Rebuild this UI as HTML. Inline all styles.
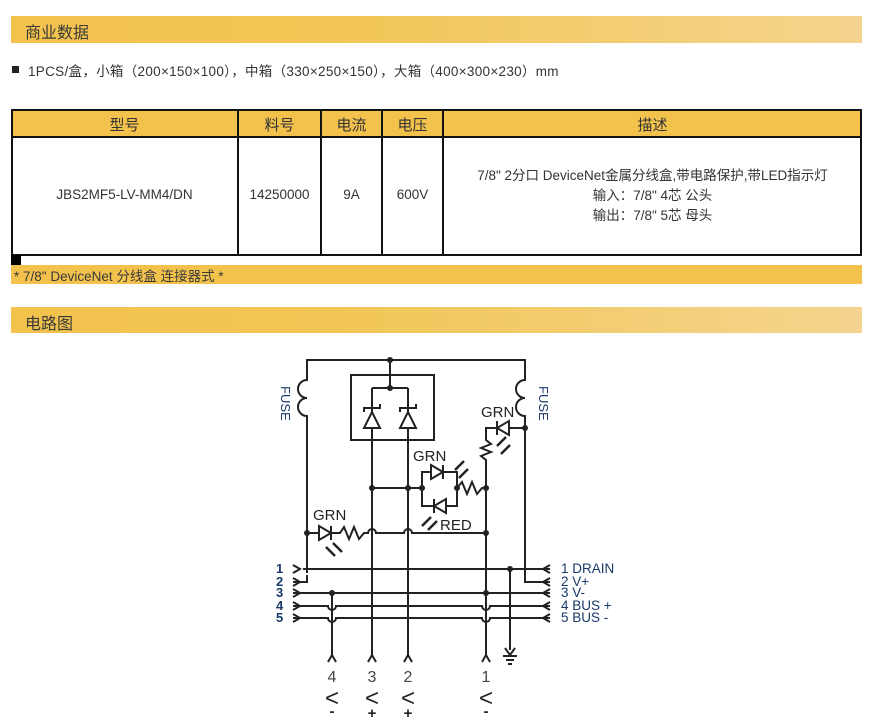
<!DOCTYPE html>
<html><head><meta charset="utf-8"><style>
body{margin:0;width:872px;height:726px;background:#fff;position:relative;overflow:hidden;font-family:"Liberation Sans","Noto Sans CJK SC",sans-serif;color:#333}
.bar{position:absolute;left:11px;width:851px;background:linear-gradient(90deg,#f2c24c 0%,#f2c657 40%,#f4d48e 100%)}
.bar span{position:absolute;left:14px;font-size:16px;color:#3a3a3a}
.t{position:absolute;font-size:13.5px;color:#333;white-space:nowrap}
.c{position:absolute;text-align:center;font-size:13.5px;color:#333;box-sizing:border-box}
</style></head><body>
<div class="bar" style="top:16px;height:27px"><span style="top:3px">商业数据</span></div>
<div style="position:absolute;left:12px;top:66px;width:7px;height:7px;background:#222"></div>
<div class="t" style="left:28px;top:60px;letter-spacing:0.3px">1PCS/盒，小箱（200×150×100），中箱（330×250×150），大箱（400×300×230）mm</div>

<div style="position:absolute;left:11px;top:110px;width:851px;height:27px;background:#f2c24c"></div>
<svg style="position:absolute;left:0;top:0" width="872" height="300">
<g stroke="#111" stroke-width="2" fill="none">
<rect x="12" y="110" width="849" height="145"/>
<line x1="11" y1="137" x2="862" y2="137"/>
<line x1="238" y1="110" x2="238" y2="255"/>
<line x1="321" y1="110" x2="321" y2="255"/>
<line x1="382" y1="110" x2="382" y2="255"/>
<line x1="443" y1="110" x2="443" y2="255"/>
</g>
<rect x="11" y="255" width="10" height="10" fill="#000"/>
</svg>
<div class="c" style="left:11px;top:114px;width:227px;font-size:15px">型号</div>
<div class="c" style="left:238px;top:114px;width:83px;font-size:15px">料号</div>
<div class="c" style="left:321px;top:114px;width:61px;font-size:15px">电流</div>
<div class="c" style="left:382px;top:114px;width:61px;font-size:15px">电压</div>
<div class="c" style="left:443px;top:114px;width:419px;font-size:15px">描述</div>
<div class="c" style="left:11px;top:187px;width:227px">JBS2MF5-LV-MM4/DN</div>
<div class="c" style="left:238px;top:187px;width:83px">14250000</div>
<div class="c" style="left:321px;top:187px;width:61px">9A</div>
<div class="c" style="left:382px;top:187px;width:61px">600V</div>
<div class="c" style="left:443px;top:166px;width:419px;line-height:20px">7/8" 2分口 DeviceNet金属分线盒,带电路保护,带LED指示灯<br>输入：7/8" 4芯 公头<br>输出：7/8" 5芯 母头</div>

<div class="bar" style="top:265px;height:19px;background:#f2c24c"><span style="left:3px;top:0px;font-size:13.5px">* 7/8" DeviceNet 分线盒 连接器式 *</span></div>
<div class="bar" style="top:307px;height:26px"><span style="top:3px">电路图</span></div>

<svg style="position:absolute;left:0;top:0" width="872" height="726">
<g stroke="#222" stroke-width="2" fill="none">
<path d="M307 573 V416 A9 9 0 0 1 307 398 V398 A9 9 0 0 1 307 380 V360 H525 V380 A9 9 0 0 0 525 398 A9 9 0 0 0 525 416 V568"/>
<rect x="351" y="375" width="83" height="65"/>
<path d="M390 360 V388 M372 388 H408 M372 388 V620 M408 388 V620"/>
<path d="M364 428 H380 L372 412 Z M400 428 H416 L408 412 Z" fill="#fff"/>
<path d="M364 412 V408 H380 V404 M400 412 V408 H416 V404"/>
<path d="M372 488 H422 M422 472 H457 V506 H422 Z M457 488 L462 482 L467 494 L472 482 L477 494 L482 488 H486"/>
<path d="M431 465 V479 L443 472 Z M443 465 V479" fill="#fff"/>
<path d="M446 499 V513 L434 506 Z M434 499 V513" fill="#fff"/>
<path d="M486 573 V460 L481 456 L491 452 L481 448 L491 444 L486 440 V428 H525"/>
<path d="M509 421 V435 L497 428 Z M497 421 V435" fill="#fff"/>
<path d="M307 533 H340 L344 527 L349 539 L354 527 L359 539 L364 533 H368 A4 4 0 0 1 376 533 H404 A4 4 0 0 1 412 533 H486"/>
<path d="M319 526 V540 L331 533 Z M331 526 V540" fill="#fff"/>
<path d="M303 569 H550"/>
<path d="M293 582 H307 V575"/>
<path d="M525 568 V582 H550"/>
<path d="M293 593 H550"/>
<path d="M293 606 H328 A4 4 0 0 0 336 606 H482 A4 4 0 0 0 490 606 H550"/>
<path d="M293 618 H328 A4 4 0 0 0 336 618 H482 A4 4 0 0 0 490 618 H550"/>
<path d="M293 565 L300 569 L293 573 M293 578 L300 582 L293 586 M293 589 L300 593 L293 597 M293 602 L300 606 L293 610 M293 614 L300 618 L293 622"/>
<path d="M550 565 L543 569 L550 573 M550 578 L543 582 L550 586 M550 589 L543 593 L550 597 M550 602 L543 606 L550 610 M550 614 L543 618 L550 622"/>
<path d="M332 593 V657 M486 573 V657 M372 620 V657 M408 620 V657"/>
<path d="M510 569 V650"/>
<path d="M328 662 L332 655 L336 662 M368 662 L372 655 L376 662 M404 662 L408 655 L412 662 M482 662 L486 655 L490 662"/>
<path d="M505 648 L510 655 L515 648 M503 656 H517 M506 660 H514 M508 664 H512"/>
</g>
<g fill="#222"><circle cx="390" cy="360" r="3"/><circle cx="390" cy="388" r="3"/><circle cx="372" cy="488" r="3"/><circle cx="408" cy="488" r="3"/><circle cx="422" cy="488" r="3"/><circle cx="457" cy="488" r="3"/><circle cx="486" cy="488" r="3"/><circle cx="525" cy="428" r="3"/><circle cx="307" cy="533" r="3"/><circle cx="486" cy="533" r="3"/><circle cx="510" cy="569" r="3"/><circle cx="332" cy="593" r="3"/><circle cx="486" cy="593" r="3"/></g>
<g fill="#222" font-family="Liberation Sans,sans-serif">
<text x="481" y="417" font-size="15">GRN</text>
<text x="413" y="461" font-size="15">GRN</text>
<text x="440" y="530" font-size="15">RED</text>
<text x="313" y="520" font-size="15">GRN</text>
<text font-size="13" fill="#1a3a6a" transform="translate(281,386) rotate(90)">FUSE</text>
<text font-size="13" fill="#1a3a6a" transform="translate(539,386) rotate(90)">FUSE</text>
<g font-size="13" font-weight="bold" fill="#1a3a6a"><text x="276" y="573">1</text><text x="276" y="586">2</text><text x="276" y="597">3</text><text x="276" y="610">4</text><text x="276" y="622">5</text></g>
<g font-size="13.5" fill="#1a3a6a"><text x="561" y="573">1  DRAIN</text><text x="561" y="586">2  V+</text><text x="561" y="597">3  V-</text><text x="561" y="610">4  BUS +</text><text x="561" y="622">5  BUS -</text></g>
<g font-size="16" fill="#444"><text x="332" y="682" text-anchor="middle">4</text><text x="372" y="682" text-anchor="middle">3</text><text x="408" y="682" text-anchor="middle">2</text><text x="486" y="682" text-anchor="middle">1</text></g>
<g font-size="24" text-anchor="middle"><text x="332" y="706">&lt;</text><text x="372" y="706">&lt;</text><text x="408" y="706">&lt;</text><text x="486" y="706">&lt;</text></g>
<g font-size="15" font-weight="bold" text-anchor="middle"><text x="332" y="716">-</text><text x="372" y="718">+</text><text x="408" y="718">+</text><text x="486" y="716">-</text></g>
</g>
<g stroke="#222" stroke-width="2.5"><path d="M455 470 L464 461 M459 478 L468 469 M497 446 L506 437 M501 454 L510 445 M431 517 L422 526 M437 521 L428 530 M326 547 L335 556 M333 543 L342 552"/></g>
</svg>
</body></html>
